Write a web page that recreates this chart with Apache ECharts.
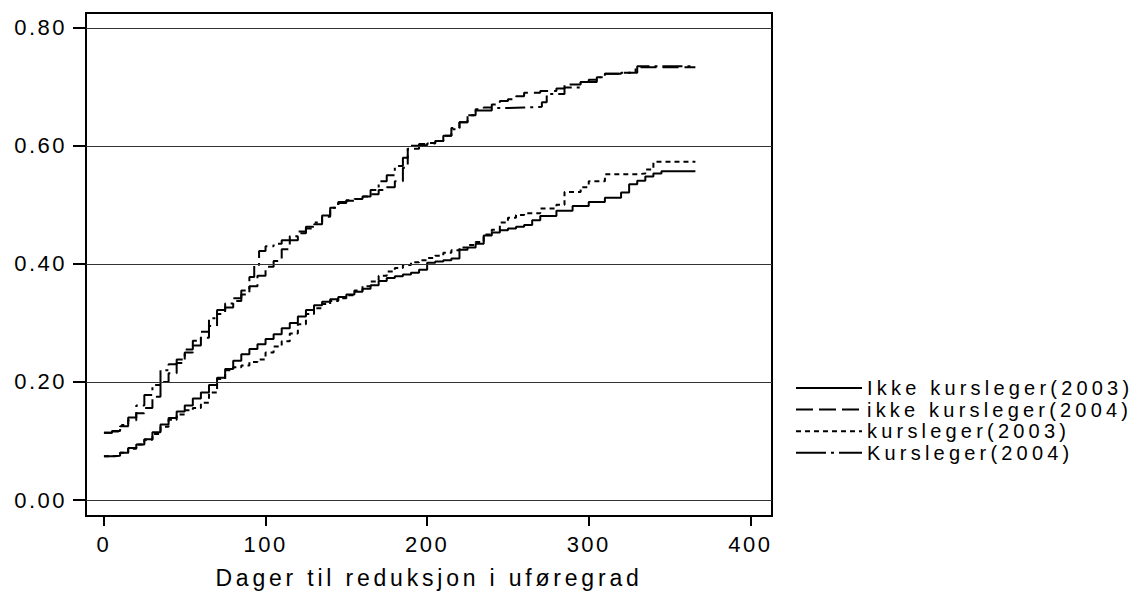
<!DOCTYPE html>
<html>
<head>
<meta charset="utf-8">
<script src="https://cdn.jsdelivr.net/npm/echarts@6/dist/echarts.min.js"></script>
<style>
  html, body { margin: 0; padding: 0; background: #fff; }
  #chart { width: 1139px; height: 594px; }
  svg text[style*="22px"] { letter-spacing: 2.5px; }
  svg text[style*="23px"] { letter-spacing: 3.8px; }
  svg text[style*="20px"] { letter-spacing: 4.2px; }
</style>
</head>
<body>
<div id="chart"></div>
<script>
// ---- Data (days, cumulative proportion) ----
const ikkeKursleger2003 = [
  [0,0.074],[5,0.075],[10,0.080],[15,0.088],[20,0.094],[25,0.103],[30,0.115],[35,0.128],[40,0.139],[45,0.150],
  [50,0.160],[55,0.172],[60,0.182],[65,0.195],[70,0.207],[75,0.222],[80,0.236],[85,0.247],[90,0.256],[95,0.264],
  [100,0.273],[105,0.281],[110,0.291],[115,0.300],[120,0.311],[125,0.322],[130,0.330],[135,0.336],[140,0.340],[145,0.344],
  [150,0.348],[155,0.353],[160,0.358],[165,0.364],[170,0.371],[175,0.376],[180,0.379],[185,0.382],[190,0.385],[195,0.390],
  [200,0.402],[205,0.404],[210,0.406],[215,0.409],[220,0.424],[225,0.428],[230,0.434],[235,0.448],[240,0.453],[245,0.457],
  [250,0.460],[255,0.463],[260,0.466],[265,0.474],[270,0.481],[280,0.490],[290,0.498],[300,0.505],[310,0.512],[320,0.521],
  [325,0.535],[330,0.541],[335,0.548],[340,0.553],[345,0.557],[366,0.557]
];
const ikkeKursleger2004 = [
  [0,0.114],[5,0.116],[10,0.125],[15,0.135],[20,0.147],[25,0.156],[30,0.175],[35,0.200],[40,0.215],[45,0.232],
  [50,0.250],[55,0.262],[60,0.275],[65,0.295],[70,0.315],[75,0.326],[80,0.337],[85,0.348],[90,0.362],[95,0.380],
  [100,0.395],[105,0.405],[110,0.425],[115,0.440],[120,0.452],[125,0.460],[130,0.467],[135,0.480],[140,0.495],[145,0.505],
  [150,0.508],[155,0.510],[160,0.514],[165,0.518],[170,0.525],[175,0.530],[180,0.540],[185,0.563],[188,0.600],[195,0.603],
  [200,0.605],[205,0.608],[210,0.617],[215,0.630],[220,0.640],[225,0.652],[230,0.662],[235,0.665],[240,0.670],[245,0.676],
  [250,0.679],[255,0.684],[260,0.690],[270,0.693],[280,0.697],[285,0.704],[295,0.708],[300,0.712],[305,0.716],[310,0.722],
  [320,0.724],[329,0.733],[366,0.733]
];
const kursleger2003 = [
  [0,0.074],[5,0.075],[10,0.080],[15,0.087],[20,0.094],[25,0.102],[30,0.112],[35,0.124],[40,0.136],[45,0.145],
  [50,0.152],[55,0.156],[60,0.165],[65,0.182],[70,0.205],[75,0.220],[80,0.225],[85,0.228],[90,0.234],[95,0.238],
  [100,0.250],[105,0.260],[110,0.269],[115,0.282],[120,0.298],[125,0.315],[130,0.325],[135,0.332],[140,0.337],[145,0.342],
  [150,0.347],[155,0.355],[160,0.362],[165,0.370],[170,0.380],[175,0.387],[180,0.393],[185,0.398],[190,0.403],[195,0.406],
  [200,0.410],[205,0.414],[210,0.419],[215,0.423],[220,0.428],[225,0.432],[230,0.437],[235,0.450],[240,0.458],[245,0.470],
  [250,0.478],[255,0.483],[260,0.486],[270,0.494],[280,0.500],[285,0.522],[295,0.530],[300,0.540],[310,0.552],[330,0.553],
  [335,0.560],[340,0.573],[366,0.574]
];
const kursleger2004 = [
  [0,0.114],[5,0.117],[10,0.127],[15,0.140],[20,0.160],[25,0.178],[30,0.195],[35,0.220],[40,0.230],[45,0.238],
  [50,0.255],[55,0.270],[60,0.285],[65,0.308],[70,0.322],[75,0.333],[80,0.342],[85,0.355],[90,0.378],[93,0.398],
  [96,0.422],[100,0.430],[105,0.434],[110,0.440],[115,0.447],[120,0.455],[125,0.463],[130,0.470],[135,0.482],[140,0.495],
  [145,0.503],[150,0.507],[155,0.510],[160,0.514],[165,0.525],[170,0.540],[175,0.550],[180,0.566],[185,0.580],[188,0.595],
  [195,0.601],[200,0.604],[205,0.608],[210,0.617],[215,0.628],[220,0.640],[225,0.652],[230,0.660],[240,0.664],[250,0.665],
  [260,0.666],[271,0.674],[274,0.688],[285,0.699],[295,0.708],[305,0.716],[310,0.722],[320,0.724],[330,0.735],[366,0.736]
];
const seriesNames = ['Ikke kursleger(2003)', 'ikke kursleger(2004)', 'kursleger(2003)', 'Kursleger(2004)'];
const xTicks = [0, 100, 200, 300, 400];
const yTicks = [0, 0.2, 0.4, 0.6, 0.8];
const xTitle = 'Dager til reduksjon i uføregrad';

// ---- Styles ----
const FONT = '"Liberation Sans", Arial, sans-serif';
const dashSolid = 'solid';
const dashLong = [16, 6];
const dashShort = [5, 4];
const dashDot = [20, 5, 3, 5];

const chart = echarts.init(document.getElementById('chart'), null, { renderer: 'svg' });

function lineSeries(name, data, type, extra) {
  return Object.assign({
    name: name,
    type: 'line',
    data: data,
    step: 'end',
    showSymbol: false,
    symbol: 'none',
    silent: true,
    lineStyle: { color: '#000', width: 2, type: type },
    itemStyle: { color: '#000' }
  }, extra || {});
}

const hiddenDot = { color: 'rgba(0,0,0,0)', borderWidth: 0, opacity: 0 };

chart.setOption({
  animation: false,
  backgroundColor: '#fff',
  grid: {
    left: 86, top: 13, width: 686, height: 506,
    show: true, borderColor: '#000', borderWidth: 2, backgroundColor: 'transparent'
  },
  legend: {
    orient: 'vertical',
    left: 790, top: 373,
    itemWidth: 66, itemHeight: 20, itemGap: 1.6,
    itemStyle: hiddenDot,
    textStyle: { fontFamily: FONT, fontSize: 20, color: '#000' },
    data: [
      { name: seriesNames[0], itemStyle: hiddenDot, lineStyle: { type: 'solid', width: 2, color: '#000' } },
      { name: seriesNames[1], itemStyle: hiddenDot, lineStyle: { type: [17, 6], width: 2, color: '#000' } },
      { name: seriesNames[2], itemStyle: hiddenDot, lineStyle: { type: [5, 4], width: 2, color: '#000' } },
      { name: seriesNames[3], itemStyle: hiddenDot, lineStyle: { type: [30, 5, 3, 5], width: 2, color: '#000' } }
    ]
  },
  xAxis: {
    type: 'value',
    min: -11.1, max: 413.4,
    name: xTitle,
    nameLocation: 'middle',
    nameGap: 50,
    nameTextStyle: { fontFamily: FONT, fontSize: 23, color: '#000' },
    axisLine: { show: false, onZero: false },
    axisTick: { show: true, length: 10, customValues: xTicks, lineStyle: { color: '#000', width: 2 } },
    axisLabel: { customValues: xTicks, fontFamily: FONT, fontSize: 22, color: '#000', margin: 17,
      formatter: v => String(v) },
    splitLine: { show: false }
  },
  yAxis: {
    type: 'value',
    min: -0.027, max: 0.825,
    axisLine: { show: false, onZero: false },
    axisTick: { show: true, length: 13, customValues: yTicks, lineStyle: { color: '#000', width: 2 } },
    axisLabel: { customValues: yTicks, fontFamily: FONT, fontSize: 22, color: '#000', margin: 19,
      formatter: v => v.toFixed(2) },
    splitLine: { show: false }
  },
  series: [
    lineSeries(seriesNames[0], ikkeKursleger2003, dashSolid, {
      markLine: {
        silent: true, symbol: ['none', 'none'], label: { show: false },
        lineStyle: { color: '#333', width: 1, type: 'solid' },
        data: yTicks.map(v => ({ yAxis: v }))
      }
    }),
    lineSeries(seriesNames[1], ikkeKursleger2004, dashLong),
    lineSeries(seriesNames[2], kursleger2003, dashShort),
    lineSeries(seriesNames[3], kursleger2004, dashDot)
  ]
});
</script>
</body>
</html>
